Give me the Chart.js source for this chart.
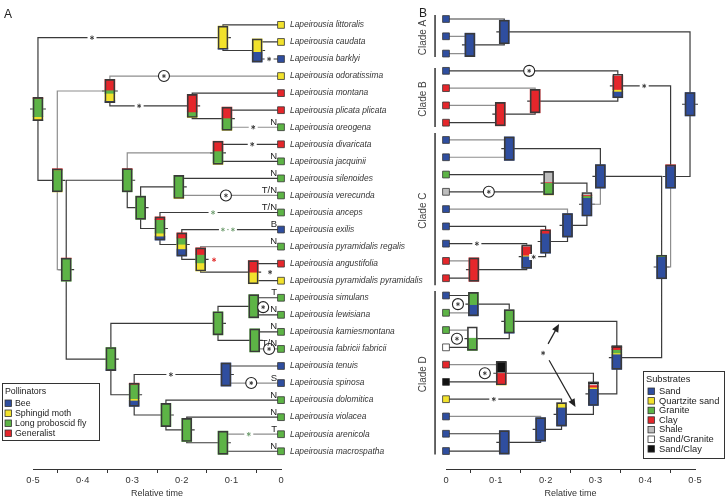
<!DOCTYPE html>
<html>
<head>
<meta charset="utf-8">
<script src="https://cdn.jsdelivr.net/npm/chart.js@4.4.1/dist/chart.umd.min.js"></script>
<style>
  html, body { margin: 0; padding: 0; background: #fff; }
  #wrap { position: relative; width: 726px; height: 499px; }
  #wrap canvas { position: absolute; left: 0; top: 0; }
</style>
</head>
<body>
<div id="wrap">
  <canvas id="pollChart" width="726" height="499"></canvas>
  <canvas id="soilChart" width="726" height="499"></canvas>
</div>
<script>
var taxa = ["Lapeirousia littoralis", "Lapeirousia caudata", "Lapeirousia barklyi", "Lapeirousia odoratissima",
    "Lapeirousia montana", "Lapeirousia plicata plicata", "Lapeirousia oreogena", "Lapeirousia divaricata",
    "Lapeirousia jacquinii", "Lapeirousia silenoides", "Lapeirousia verecunda", "Lapeirousia anceps",
    "Lapeirousia exilis", "Lapeirousia pyramidalis regalis", "Lapeirousia angustifolia",
    "Lapeirousia pyramidalis pyramidalis", "Lapeirousia simulans", "Lapeirousia lewisiana",
    "Lapeirousia kamiesmontana", "Lapeirousia fabricii fabricii", "Lapeirousia tenuis", "Lapeirousia spinosa",
    "Lapeirousia dolomitica", "Lapeirousia violacea", "Lapeirousia arenicola", "Lapeirousia macrospatha"];

var pollinators = ["Bee", "Sphingid moth", "Long proboscid fly", "Generalist"];
var pollinatorColors = ["#2f4e9f", "#f2e22c", "#5db446", "#e5262b"];
var substrates = ["Sand", "Quartzite sand", "Granite", "Clay", "Shale", "Sand/Granite", "Sand/Clay"];
var substrateColors = ["#2f4e9f", "#f2e22c", "#5db446", "#e5262b", "#bdbdbd", "#ffffff", "#111111"];

// state of each tip (index into pollinators / substrates)
var tipPollinator = [1, 1, 0, 1, 3, 3, 2, 3, 2, 2, 2, 2, 0, 2, 3, 1, 2, 2, 2, 2, 0, 0, 2, 2, 2, 2];
var tipSubstrate = [0, 0, 0, 0, 3, 3, 3, 0, 0, 2, 4, 0, 0, 0, 3, 3, 0, 2, 2, 5, 3, 6, 1, 0, 0, 0];

// internal nodes: relative age and children (numbers are tips)
var nodeIds = ["root", "lit", "cb", "n1", "n2", "n2b", "pl", "n3", "n4", "dv", "n5", "sv", "n6", "n7", "n8",
    "n9", "n10", "n11", "sl", "kf", "n12", "ts", "n14", "n15", "n16"];
var nodeAges = [0.49, 0.117, 0.048, 0.451, 0.345, 0.179, 0.109, 0.433, 0.31, 0.127, 0.283, 0.206, 0.244, 0.2,
    0.162, 0.056, 0.343, 0.127, 0.055, 0.053, 0.296, 0.111, 0.232, 0.19, 0.117];
var nodeKids = [["lit", "n1"], [0, "cb"], [1, 2], ["n2", "n3"], [3, "n2b"], [4, "pl"], [5, 6], ["n4", "n10"],
    ["dv", "n5"], [7, 8], ["sv", "n6"], [9, 10], [11, "n7"], [12, "n8"], [13, "n9"], [14, 15], ["n11", "n12"],
    ["sl", "kf"], [16, 17], [18, 19], ["ts", "n14"], [20, 21], [22, "n15"], [23, "n16"], [24, 25]];

// ancestral state probabilities (same order as the legends)
var nodePollinator = [
    [0.03, 0.14, 0.79, 0.04], [0.05, 0.95, 0, 0], [0.45, 0.55, 0, 0], [0, 0.05, 0.9, 0.05],
    [0.08, 0.32, 0.14, 0.46], [0, 0.04, 0.2, 0.76], [0, 0.06, 0.47, 0.47], [0, 0, 0.98, 0.02],
    [0, 0, 0.96, 0.04], [0, 0.08, 0.5, 0.42], [0, 0, 1, 0], [0, 0.06, 0.94, 0],
    [0.17, 0.13, 0.58, 0.12], [0.31, 0.2, 0.27, 0.22], [0, 0.35, 0.36, 0.29], [0, 0.5, 0, 0.5],
    [0.07, 0, 0.93, 0], [0, 0, 1, 0], [0, 0, 1, 0], [0, 0, 1, 0],
    [0.26, 0.07, 0.62, 0.05], [1, 0, 0, 0], [0, 0, 1, 0], [0, 0, 1, 0], [0, 0, 1, 0]];
var nodeSubstrate = [
    [1, 0, 0, 0, 0, 0, 0], [1, 0, 0, 0, 0, 0, 0], [1, 0, 0, 0, 0, 0, 0], [0.95, 0, 0, 0.05, 0, 0, 0],
    [0.27, 0.08, 0, 0.6, 0, 0.05, 0], [0, 0, 0, 1, 0, 0, 0], [0, 0, 0, 1, 0, 0, 0], [0.94, 0, 0.06, 0, 0, 0, 0],
    [1, 0, 0, 0, 0, 0, 0], [1, 0, 0, 0, 0, 0, 0], [0.78, 0, 0.08, 0.04, 0.1, 0, 0], [0, 0.05, 0.47, 0.03, 0.45, 0, 0],
    [1, 0, 0, 0, 0, 0, 0], [0.85, 0, 0, 0.15, 0, 0, 0], [0.52, 0.04, 0, 0.38, 0.06, 0, 0], [0, 0, 0, 1, 0, 0, 0],
    [0.65, 0.05, 0.14, 0.1, 0, 0, 0.06], [0.05, 0, 0.93, 0, 0.02, 0, 0], [0.48, 0, 0.52, 0, 0, 0, 0],
    [0, 0, 0.55, 0, 0, 0.45, 0], [0.72, 0.06, 0, 0.1, 0, 0.04, 0.08], [0, 0.04, 0, 0.48, 0.03, 0, 0.45],
    [0.8, 0.15, 0, 0, 0.05, 0, 0], [1, 0, 0, 0, 0, 0, 0], [1, 0, 0, 0, 0, 0, 0]];

var grayEdgesA = ["n2", 3, 6, "dv", "n3", 10, 13, 19, 21, 24];
var grayEdgesB = [1, 2, 4, 5, 7, 8, 11, 14, 17, 18, 20, 23, "n5", "n3"];

// branch marks: [age, row, kind, colour]
var marksA = [[0.381, 0.75, "*"], [0.236, 3, "o"], [0.286, 4.75, "*"], [0.024, 2, "*"], [0.056, 6, "*"],
    [0.058, 7, "*"], [0.111, 10, "o"], [0.137, 11, "*", "#6a9a6a"], [0.107, 12, "**", "#6a9a6a"],
    [0.135, 13.77, "*", "#e02020"], [0.022, 14.5, "*"], [0.036, 16.55, "o"], [0.024, 19, "o"],
    [0.222, 20.5, "*"], [0.06, 21, "o"], [0.065, 24, "*", "#6a9a6a"]];
var notesA = [[6, "N"], [8, "N"], [9, "N"], [10, "T/N"], [11, "T/N"], [12, "B"], [13, "N"], [16, "T"], [17, "N"],
    [18, "N"], [19, "T/N"], [21, "S"], [22, "N"], [23, "N"], [24, "T"], [25, "N"]];
var marksB = [[0.167, 3, "o"], [0.398, 3.875, "*"], [0.086, 10, "o"], [0.062, 13, "*"], [0.176, 13.77, "*"],
    [0.024, 16.5, "o"], [0.022, 18.5, "o"], [0.078, 20.5, "o"], [0.096, 22, "*"], [0.195, 19.33, "*"]];
var arrowsB = [[0.205, 18.8, 0.227, 17.65], [0.207, 19.75, 0.26, 22.45]];
var clades = [["Clade A", -0.23, 2.2], ["Clade B", 2.84, 6.25], ["Clade C", 6.6, 15.4], ["Clade D", 15.74, 25.2]];

var FONT = "'Liberation Sans', Arial, Helvetica, sans-serif";
var ROW_MIN = -0.637, ROW_MAX = 26.04;
var BOX_H = 1.36;
Chart.defaults.font.family = FONT;

function nodeRow(key) {
    if (typeof key === "number") return key;
    var k = nodeKids[nodeIds.indexOf(key)];
    return (nodeRow(k[0]) + nodeRow(k[1])) / 2;
}
function nodeAge(key) {
    return typeof key === "number" ? 0 : nodeAges[nodeIds.indexOf(key)];
}

function branchData(grayKeys) {
    var dark = [], gray = [], gap = {x: NaN, y: NaN};
    nodeIds.forEach(function (id, i) {
        var t = nodeAges[i], yc = nodeRow(id);
        nodeKids[i].forEach(function (kid) {
            var out = grayKeys.indexOf(kid) >= 0 ? gray : dark;
            var y = nodeRow(kid);
            out.push({x: t, y: yc}, {x: t, y: y}, {x: nodeAge(kid), y: y}, gap);
        });
        dark.push({x: t + 0.016, y: yc}, {x: t - 0.016, y: yc}, gap); // node tick
    });
    return {dark: dark, gray: gray};
}

function boxData(probs, colors) {
    var data = [], fill = [], border = [];
    nodeIds.forEach(function (id, i) {
        var t = nodeAges[i], yc = nodeRow(id), bottom = yc + BOX_H / 2, acc = 0;
        probs[i].forEach(function (p, j) {
            if (p <= 0) return;
            data.push({x: t, y: [bottom - (acc + p) * BOX_H, bottom - acc * BOX_H]});
            fill.push(colors[j]);
            border.push(0);
            acc += p;
        });
    });
    nodeIds.forEach(function (id, i) { // outlines on top
        var yc = nodeRow(id);
        data.push({x: nodeAges[i], y: [yc - BOX_H / 2, yc + BOX_H / 2]});
        fill.push("rgba(0,0,0,0)");
        border.push(1);
    });
    return {data: data, fill: fill, border: border};
}

function fmtTime(v) {
    return v === 0 ? "0" : v.toFixed(1).replace(".", "\u00b7");
}

function drawStar(ctx, x, y, r, color) {
    ctx.save();
    ctx.strokeStyle = color;
    ctx.lineWidth = 0.9;
    ctx.beginPath();
    for (var k = 0; k < 3; k++) {
        var a = Math.PI / 2 + k * Math.PI / 3;
        ctx.moveTo(x + r * Math.cos(a), y + r * Math.sin(a));
        ctx.lineTo(x - r * Math.cos(a), y - r * Math.sin(a));
    }
    ctx.stroke();
    ctx.restore();
}

function drawMark(ctx, x, y, kind, color) {
    color = color || "#333";
    if (kind === "o") {
        ctx.beginPath();
        ctx.arc(x, y, 5.5, 0, Math.PI * 2);
        ctx.fillStyle = "#fff";
        ctx.fill();
        ctx.lineWidth = 1.1;
        ctx.strokeStyle = "#222";
        ctx.stroke();
        drawStar(ctx, x, y, 2, "#333");
    } else if (kind === "**") {
        ctx.fillStyle = "#fff";
        ctx.fillRect(x - 9, y - 3, 18, 6);
        drawStar(ctx, x - 5, y, 2, color);
        drawStar(ctx, x + 5, y, 2, color);
        ctx.fillStyle = color;
        ctx.fillRect(x - 0.6, y - 0.6, 1.2, 1.2);
    } else {
        ctx.fillStyle = "#fff";
        ctx.fillRect(x - 4.5, y - 3, 9, 6);
        drawStar(ctx, x, y, 2.2, color);
    }
}

function drawArrow(ctx, x0, y0, x1, y1) {
    var a = Math.atan2(y1 - y0, x1 - x0), c = Math.cos(a), s = Math.sin(a);
    ctx.strokeStyle = "#222";
    ctx.lineWidth = 1.2;
    ctx.beginPath();
    ctx.moveTo(x0, y0);
    ctx.lineTo(x1 - 5 * c, y1 - 5 * s);
    ctx.stroke();
    ctx.fillStyle = "#222";
    ctx.beginPath();
    ctx.moveTo(x1, y1);
    ctx.lineTo(x1 - 8 * c + 3.5 * s, y1 - 8 * s - 3.5 * c);
    ctx.lineTo(x1 - 8 * c - 3.5 * s, y1 - 8 * s + 3.5 * c);
    ctx.closePath();
    ctx.fill();
}

function drawLegend(ctx, box, title, names, colors, step, size, sqOff, txtOff) {
    var x = box[0], y = box[1], w = box[2], h = box[3];
    ctx.fillStyle = "#fff";
    ctx.fillRect(x, y, w, h);
    ctx.strokeStyle = "#333";
    ctx.lineWidth = 1;
    ctx.strokeRect(x + 0.5, y + 0.5, w - 1, h - 1);
    ctx.font = size + "px " + FONT;
    ctx.fillStyle = "#222";
    ctx.textAlign = "left";
    ctx.textBaseline = "middle";
    ctx.fillText(title, x + 3, y + 8.5);
    names.forEach(function (n, i) {
        var cy = y + 20 + step * i;
        ctx.fillStyle = colors[i];
        ctx.fillRect(x + sqOff, cy - 3, 6.5, 6.5);
        ctx.strokeStyle = "#333";
        ctx.lineWidth = 0.8;
        ctx.strokeRect(x + sqOff, cy - 3, 6.5, 6.5);
        ctx.fillStyle = "#222";
        ctx.fillText(n, x + txtOff, cy + 0.5);
    });
}

var decorA = {
    id: "decorA",
    afterDatasetsDraw: function (chart) {
        var ctx = chart.ctx, xs = chart.scales.x, ys = chart.scales.y;
        ctx.save();
        marksA.forEach(function (m) {
            drawMark(ctx, xs.getPixelForValue(m[0]), ys.getPixelForValue(m[1]), m[2], m[3]);
        });
        ctx.font = "9.5px " + FONT;
        ctx.fillStyle = "#222";
        ctx.textAlign = "right";
        ctx.textBaseline = "alphabetic";
        notesA.forEach(function (n) {
            ctx.fillText(n[1], xs.getPixelForValue(0.008), ys.getPixelForValue(n[0]) - 2.5);
        });
        drawLegend(ctx, [2, 383, 98, 58], "Pollinators", pollinators, pollinatorColors, 10, 8.8, 3, 13);
        ctx.font = "12px " + FONT;
        ctx.fillStyle = "#222";
        ctx.textAlign = "left";
        ctx.textBaseline = "middle";
        ctx.fillText("A", 4, 14.5);
        ctx.restore();
    }
};

var decorB = {
    id: "decorB",
    afterDatasetsDraw: function (chart) {
        var ctx = chart.ctx, xs = chart.scales.x, ys = chart.scales.y;
        ctx.save();
        marksB.forEach(function (m) {
            drawMark(ctx, xs.getPixelForValue(m[0]), ys.getPixelForValue(m[1]), m[2], m[3]);
        });
        arrowsB.forEach(function (a) {
            drawArrow(ctx, xs.getPixelForValue(a[0]), ys.getPixelForValue(a[1]),
                xs.getPixelForValue(a[2]), ys.getPixelForValue(a[3]));
        });
        var bx = xs.getPixelForValue(-0.022), lx = xs.getPixelForValue(-0.046);
        clades.forEach(function (c) {
            var y0 = ys.getPixelForValue(c[1]), y1 = ys.getPixelForValue(c[2]);
            ctx.strokeStyle = "#333";
            ctx.lineWidth = 1.5;
            ctx.beginPath();
            ctx.moveTo(bx, y0);
            ctx.lineTo(bx, y1);
            ctx.stroke();
            ctx.save();
            ctx.translate(lx, (y0 + y1) / 2 + 1.5);
            ctx.rotate(-Math.PI / 2);
            ctx.font = "10px " + FONT;
            ctx.fillStyle = "#444";
            ctx.textAlign = "center";
            ctx.textBaseline = "middle";
            ctx.fillText(c[0], 0, 0);
            ctx.restore();
        });
        drawLegend(ctx, [643, 371, 82, 88], "Substrates", substrates, substrateColors, 9.6, 9.3, 5, 16);
        ctx.font = "12px " + FONT;
        ctx.fillStyle = "#222";
        ctx.textAlign = "left";
        ctx.textBaseline = "middle";
        ctx.fillText("B", 419, 13.5);
        ctx.restore();
    }
};

function timeAxis(reverse) {
    return {
        type: "linear",
        min: 0,
        max: 0.5,
        reverse: reverse,
        offset: false,
        afterFit: function (s) { s.height = 30; },
        border: {display: true, color: "#333", width: 1},
        grid: {drawOnChartArea: false, drawTicks: true, tickLength: 4, color: "#333"},
        ticks: {stepSize: 0.1, color: "#333", padding: 2, maxRotation: 0, font: {size: 9.3}, callback: fmtTime},
        title: {display: true, text: "Relative time", color: "#333", font: {size: 9}, padding: 0}
    };
}

function treeChart(canvasId, isA, probs, colors, tipState, grayEdges, decor) {
    var boxes = boxData(probs, colors);
    var br = branchData(grayEdges);
    var yAxis = {
        type: "linear",
        min: ROW_MIN,
        max: ROW_MAX,
        reverse: true,
        display: isA,
        position: "right",
        afterFit: function (s) { s.width = isA ? 150 : 0; },
        afterBuildTicks: function (s) {
            s.ticks = taxa.map(function (n, i) { return {value: i}; });
        },
        border: {display: false},
        grid: {display: false, drawTicks: false},
        ticks: {
            color: "#333",
            padding: 9,
            autoSkip: false,
            font: {size: 8.4, style: "italic"},
            callback: function (v) { return taxa[v] || ""; }
        }
    };
    return new Chart(document.getElementById(canvasId), {
        type: "scatter",
        data: {
            datasets: [
                {
                    type: "scatter",
                    data: taxa.map(function (n, i) { return {x: 0, y: i}; }),
                    pointStyle: "rect",
                    pointRadius: 4.8,
                    pointBackgroundColor: tipState.map(function (s) { return colors[s]; }),
                    pointBorderColor: "#333",
                    pointBorderWidth: 0.8,
                    order: 0,
                    clip: false
                },
                {
                    type: "bar",
                    data: boxes.data,
                    backgroundColor: boxes.fill,
                    borderColor: "#3a3a3a",
                    borderWidth: boxes.border,
                    borderSkipped: false,
                    barThickness: 10,
                    order: 1,
                    clip: false
                },
                {
                    type: "line",
                    data: br.gray,
                    borderColor: "#8e8e8e",
                    borderWidth: 1.2,
                    pointRadius: 0,
                    spanGaps: false,
                    order: 2,
                    clip: false
                },
                {
                    type: "line",
                    data: br.dark,
                    borderColor: "#3a3a3a",
                    borderWidth: 1.2,
                    pointRadius: 0,
                    spanGaps: false,
                    order: 3,
                    clip: false
                }
            ]
        },
        options: {
            responsive: false,
            animation: false,
            events: [],
            layout: {
                padding: isA ? {left: 33, right: 295, top: 8, bottom: 0} : {left: 446, right: 31, top: 8, bottom: 0}
            },
            plugins: {legend: {display: false}, tooltip: {enabled: false}},
            scales: {x: timeAxis(isA), y: yAxis}
        },
        plugins: [decor]
    });
}

treeChart("pollChart", true, nodePollinator, pollinatorColors, tipPollinator, grayEdgesA, decorA);
treeChart("soilChart", false, nodeSubstrate, substrateColors, tipSubstrate, grayEdgesB, decorB);
</script>
</body>
</html>
